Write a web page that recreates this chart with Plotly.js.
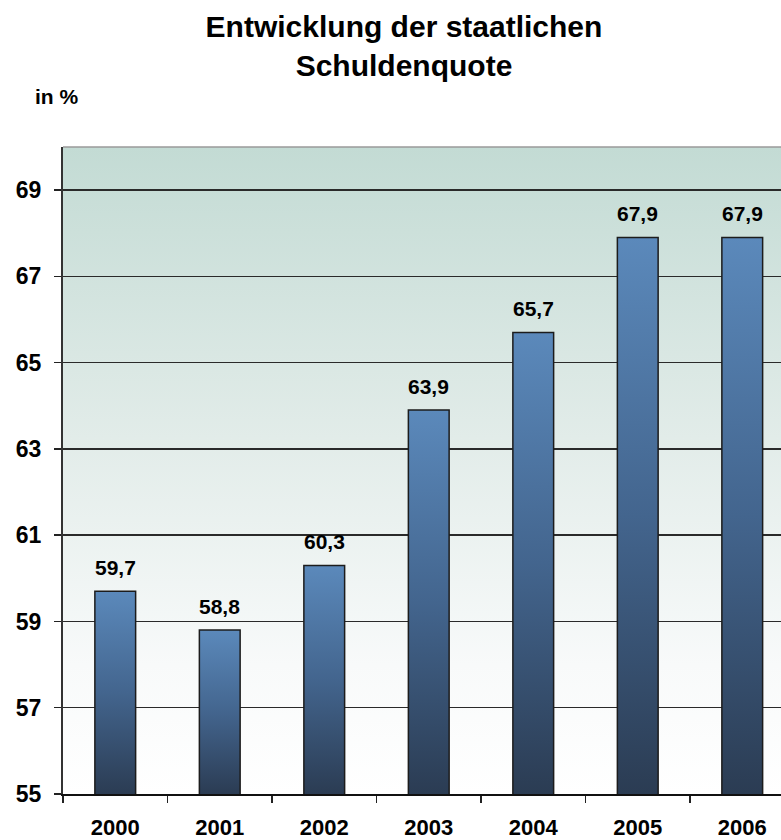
<!DOCTYPE html>
<html>
<head>
<meta charset="utf-8">
<script src="https://cdn.plot.ly/plotly-3.0.1.min.js"></script>
<style>
  html, body { margin: 0; padding: 0; background: #ffffff; }
  #chart { width: 781px; height: 840px; }
  #gradDefs { position: absolute; left: 0; top: 0; width: 0; height: 0; overflow: hidden; }
</style>
</head>
<body>
<svg id="gradDefs" xmlns="http://www.w3.org/2000/svg" width="0" height="0" aria-hidden="true"><defs id="gradDefsInner"></defs></svg>
<div id="chart"></div>
<script>
// ---- data ----
const years = ['2000', '2001', '2002', '2003', '2004', '2005', '2006'];
const quote = [59.7, 58.8, 60.3, 63.9, 65.7, 67.9, 67.9];
const yTicks = [55, 57, 59, 61, 63, 65, 67, 69];
const titleText = 'Entwicklung der staatlichen<br>Schuldenquote';
const unitText = 'in %';
const yMin = 55, yMax = 70;

const FONT = 'Liberation Sans, Arial, Helvetica, sans-serif';

function fmt(v) { return v.toFixed(1).replace('.', ','); }

const trace = {
  type: 'bar',
  x: years,
  y: quote,
  marker: { color: '#45678f', line: { color: '#1c1c1c', width: 1.5 } },
  hoverinfo: 'skip'
};

const labelAnns = quote.map((v, i) => ({
  x: i, y: v, xref: 'x', yref: 'y',
  text: '<b>' + fmt(v) + '</b>', showarrow: false,
  xanchor: 'center', yanchor: 'middle', yshift: 24,
  font: { family: FONT, size: 21, color: '#000' }
}));

const bgSvg = '<svg xmlns="http://www.w3.org/2000/svg" width="10" height="100" preserveAspectRatio="none">' +
  '<defs><linearGradient id="g" x1="0" y1="0" x2="0" y2="1">' +
  '<stop offset="0" stop-color="#c3dbd4"/><stop offset="0.45" stop-color="#e2ece9"/>' +
  '<stop offset="0.8" stop-color="#f8fafa"/><stop offset="1" stop-color="#ffffff"/>' +
  '</linearGradient></defs><rect width="10" height="100" fill="url(#g)"/></svg>';

const layout = {
  width: 781, height: 840,
  margin: { l: 63, r: 0, t: 147, b: 46, pad: 0 },
  paper_bgcolor: '#ffffff',
  plot_bgcolor: 'rgba(0,0,0,0)',
  separators: ', ',
  font: { family: FONT, color: '#000' },
  showlegend: false,
  title: {
    text: titleText,
    font: { family: FONT, size: 30, color: '#000', weight: 'bold' },
    xref: 'container', x: 404 / 781, xanchor: 'center',
    yref: 'container', y: 1 - 37 / 840, yanchor: 'top'
  },
  xaxis: {
    type: 'category',
    range: [-0.5, -0.5 + 718 / 104.5],
    tickson: 'boundaries',
    ticks: 'outside', ticklen: 7, tickwidth: 1.5, tickcolor: '#222',
    showline: true, linecolor: '#111', linewidth: 1.5,
    showgrid: false, zeroline: false,
    tickfont: { family: FONT, size: 22, color: '#000', weight: 'bold' },
    ticklabelstandoff: 13,
    fixedrange: true
  },
  yaxis: {
    range: [yMin, yMax],
    tickvals: yTicks,
    ticktext: yTicks.map(String),
    ticks: 'outside', ticklen: 7, tickwidth: 1.5, tickcolor: '#222',
    showline: true, linecolor: '#333', linewidth: 2,
    showgrid: true, gridcolor: '#2a2a2a', gridwidth: 1.5,
    zeroline: false,
    tickfont: { family: FONT, size: 23, color: '#000', weight: 'bold' },
    ticklabelstandoff: 8,
    fixedrange: true
  },
  bargap: 0.61,
  images: [{
    source: 'data:image/svg+xml;charset=utf-8,' + encodeURIComponent(bgSvg),
    xref: 'paper', yref: 'paper', x: 0, y: 1, sizex: 1, sizey: 1,
    xanchor: 'left', yanchor: 'top', sizing: 'stretch', layer: 'below'
  }],
  shapes: [{
    type: 'line', xref: 'paper', yref: 'paper', x0: 0, x1: 1, y0: 1, y1: 1,
    line: { color: '#9a9a9a', width: 1.5 }
  }],
  annotations: labelAnns.concat([{
    xref: 'paper', yref: 'paper', x: -0.0097, y: 1.0788,
    text: '<b>' + unitText + '</b>', showarrow: false, xanchor: 'center', yanchor: 'middle',
    font: { family: FONT, size: 21, color: '#000' }
  }])
};

// Each bar gets its own vertical gradient running from its top (value) to the axis floor (yMin)
function applyGradient(gd) {
  const ns = 'http://www.w3.org/2000/svg';
  const defs = document.getElementById('gradDefsInner');
  const ya = gd._fullLayout.yaxis;
  const floorPx = ya.c2p(yMin);
  const paths = gd.querySelectorAll('.barlayer .point path');
  paths.forEach(function (p, i) {
    const id = 'barGrad' + i;
    let lg = document.getElementById(id);
    if (!lg) {
      lg = document.createElementNS(ns, 'linearGradient');
      lg.setAttribute('id', id);
      lg.setAttribute('gradientUnits', 'userSpaceOnUse');
      [['0', '#5b89bb'], ['0.5', '#43658e'], ['1', '#2b3c53']].forEach(function (s) {
        const st = document.createElementNS(ns, 'stop');
        st.setAttribute('offset', s[0]); st.setAttribute('stop-color', s[1]);
        lg.appendChild(st);
      });
      defs.appendChild(lg);
    }
    lg.setAttribute('x1', '0'); lg.setAttribute('x2', '0');
    lg.setAttribute('y1', String(ya.c2p(quote[i])));
    lg.setAttribute('y2', String(floorPx));
    p.style.setProperty('fill', 'url(#' + id + ')', 'important');
    p.style.setProperty('fill-opacity', '1', 'important');
  });
}

const gd = document.getElementById('chart');
Plotly.newPlot(gd, [trace], layout, { staticPlot: true, displayModeBar: false }).then(function () {
  applyGradient(gd);
});
</script>
</body>
</html>
